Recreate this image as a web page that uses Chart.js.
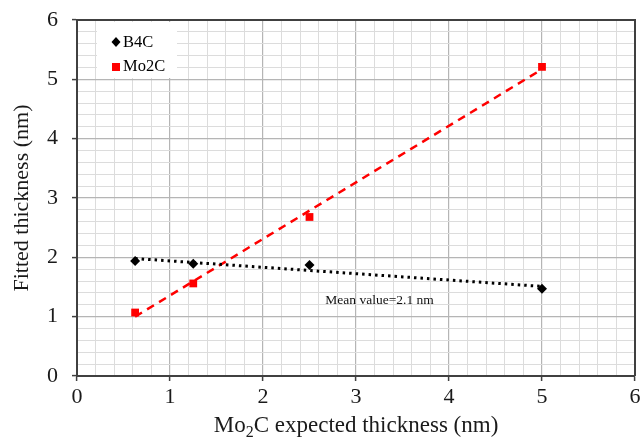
<!DOCTYPE html>
<html>
<head>
<meta charset="utf-8">
<script src="https://cdn.jsdelivr.net/npm/chart.js@4"></script>
<style>
  html, body { margin: 0; padding: 0; background: #fff; }
  #wrap { width: 643px; height: 440px; }
</style>
</head>
<body>
<div id="wrap"><canvas id="chart" width="643" height="440"></canvas></div>
<script>
// values
const expectedThickness = [0.625, 1.25, 2.5, 5];
const b4cFitted = [1.94, 1.89, 1.87, 1.47];
const mo2cFitted = [1.07, 1.56, 2.68, 5.21];
const trendEnds = [0.625, 5];
const b4cTrend = [1.98, 1.51];
const mo2cTrend = [1.00, 5.17];
const meanLabel = "Mean value=2.1 nm";
const meanLabelPos = [2.67, 1.28];

const serif = "'Liberation Serif', 'Times New Roman', serif";

function toPoints(xs, ys) {
    return xs.map((x, i) => ({ x: x, y: ys[i] }));
}

function isMajor(v) {
    return Math.abs(v - Math.round(v)) < 1e-6;
}

// grid, ticks and border shared by both axes
function axisOptions() {
    return {
        type: 'linear',
        min: 0,
        max: 6,
        ticks: {
            stepSize: 0.2,
            autoSkip: false,
            maxRotation: 0,
            color: '#1a1a1a',
            font: { family: serif, size: 22 },
            callback: v => isMajor(v) ? String(Math.round(v)) : ''
        },
        grid: {
            color: c => isMajor(c.tick.value) ? '#b5b5b5' : '#dcdcdc',
            lineWidth: c => isMajor(c.tick.value) ? 1.2 : 1,
            tickColor: c => isMajor(c.tick.value) ? '#404040' : 'rgba(0,0,0,0)',
            tickLength: 5,
            tickWidth: 1.5
        },
        border: { color: '#404040', width: 2 }
    };
}

const extras = {
    id: 'extras',
    afterDraw(chart) {
        const ctx = chart.ctx;
        const area = chart.chartArea;
        const xs = chart.scales.x, ys = chart.scales.y;
        ctx.save();

        // top and right edges of the plot box
        ctx.strokeStyle = '#404040';
        ctx.lineWidth = 2;
        ctx.beginPath();
        ctx.moveTo(area.left, area.top);
        ctx.lineTo(area.right, area.top);
        ctx.lineTo(area.right, area.bottom);
        ctx.stroke();

        // legend box inside the plot
        ctx.fillStyle = '#fff';
        ctx.fillRect(area.left + 20, area.top + 2, 80, 56);
        ctx.font = '16.5px ' + serif;
        ctx.textBaseline = 'middle';
        ctx.textAlign = 'left';
        const lx = area.left + 39;
        ctx.fillStyle = '#000';
        ctx.beginPath();
        ctx.moveTo(lx, area.top + 17);
        ctx.lineTo(lx + 4.5, area.top + 22);
        ctx.lineTo(lx, area.top + 27);
        ctx.lineTo(lx - 4.5, area.top + 22);
        ctx.closePath();
        ctx.fill();
        ctx.fillText('B4C', lx + 7, area.top + 23);
        ctx.fillStyle = '#ff0000';
        ctx.fillRect(lx - 4, area.top + 43, 8, 8);
        ctx.fillStyle = '#000';
        ctx.fillText('Mo2C', lx + 7, area.top + 47);

        // annotation
        ctx.font = '13.5px ' + serif;
        ctx.fillStyle = '#111';
        ctx.fillText(meanLabel, xs.getPixelForValue(meanLabelPos[0]), ys.getPixelForValue(meanLabelPos[1]));

        // y axis title
        ctx.font = '22px ' + serif;
        ctx.fillStyle = '#1a1a1a';
        ctx.save();
        ctx.translate(22, (area.top + area.bottom) / 2);
        ctx.rotate(-Math.PI / 2);
        ctx.textAlign = 'center';
        ctx.fillText('Fitted thickness (nm)', 0, 0);
        ctx.restore();

        // x axis title with subscript 2
        const parts = [['Mo', 23, 0], ['2', 16, 5], ['C expected thickness (nm)', 23, 0]];
        let total = 0;
        parts.forEach(p => { ctx.font = p[1] + 'px ' + serif; total += ctx.measureText(p[0]).width; });
        let cx = (area.left + area.right) / 2 - total / 2;
        ctx.textAlign = 'left';
        ctx.textBaseline = 'alphabetic';
        parts.forEach(p => {
            ctx.font = p[1] + 'px ' + serif;
            ctx.fillText(p[0], cx, 432 + p[2]);
            cx += ctx.measureText(p[0]).width;
        });
        ctx.restore();
    }
};

const xAxis = axisOptions();
xAxis.ticks.padding = 3;
xAxis.afterFit = s => { s.height = 64; s.paddingLeft = 0; s.paddingRight = 0; };
const yAxis = axisOptions();
yAxis.ticks.padding = 14;
yAxis.afterFit = s => { s.width = 77; s.paddingTop = 0; s.paddingBottom = 0; };

new Chart(document.getElementById('chart').getContext('2d'), {
    type: 'scatter',
    data: {
        datasets: [{
            label: 'B4C trend',
            type: 'line',
            data: toPoints(trendEnds, b4cTrend),
            borderColor: '#000',
            borderWidth: 3,
            borderDash: [2.5, 4],
            pointRadius: 0,
            fill: false
        }, {
            label: 'Mo2C trend',
            type: 'line',
            data: toPoints(trendEnds, mo2cTrend),
            borderColor: '#ff0000',
            borderWidth: 2.5,
            borderDash: [8, 6],
            pointRadius: 0,
            fill: false
        }, {
            label: 'B4C',
            data: toPoints(expectedThickness, b4cFitted),
            pointStyle: 'rectRot',
            pointRadius: 5,
            backgroundColor: '#000',
            borderColor: '#000',
            borderWidth: 0
        }, {
            label: 'Mo2C',
            data: toPoints(expectedThickness, mo2cFitted),
            pointStyle: 'rect',
            pointRadius: 5.5,
            backgroundColor: '#ff0000',
            borderColor: '#ff0000',
            borderWidth: 0
        }]
    },
    options: {
        responsive: false,
        animation: false,
        layout: { padding: { top: 20, right: 8, left: 0, bottom: 0 } },
        plugins: {
            legend: { display: false },
            tooltip: { enabled: false }
        },
        scales: { x: xAxis, y: yAxis }
    },
    plugins: [extras]
});
</script>
</body>
</html>
